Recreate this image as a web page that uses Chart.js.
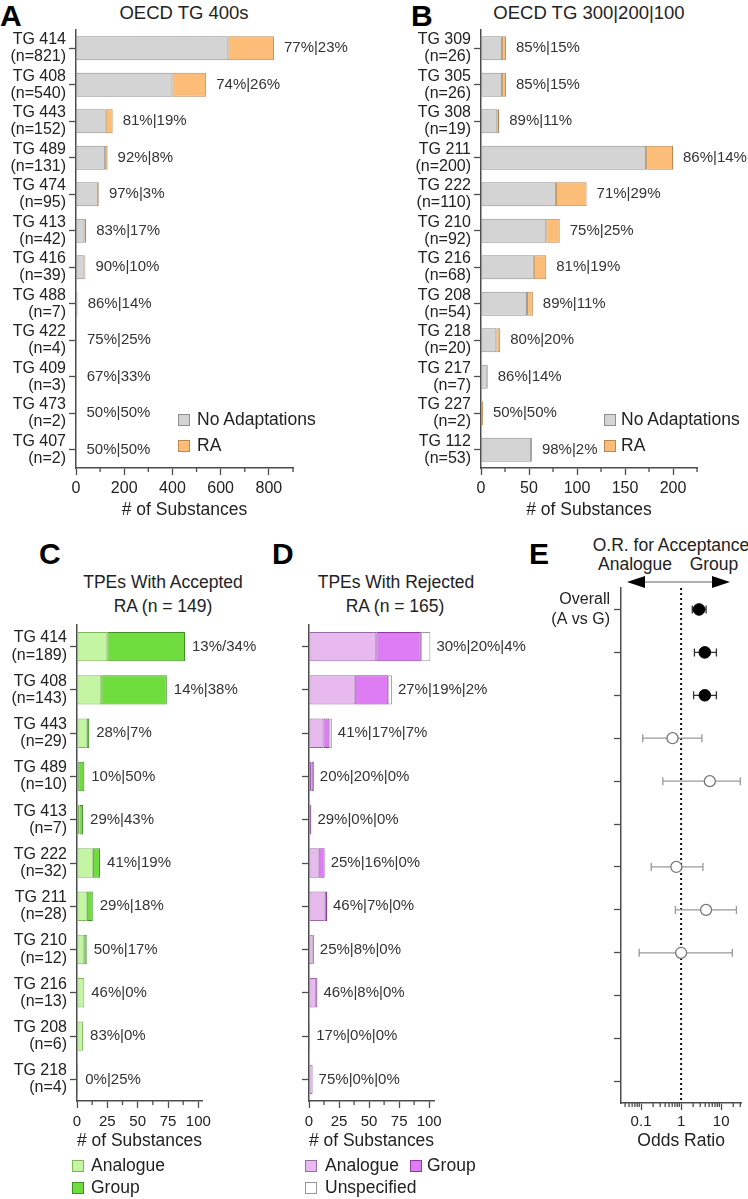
<!DOCTYPE html>
<html>
<head>
<meta charset="utf-8">
<script src="https://cdn.jsdelivr.net/npm/chart.js@4"></script>
<style>
  body { margin: 0; background: #fff; }
  #fig { position: relative; width: 748px; height: 1199px; overflow: hidden;
         font-family: 'Liberation Sans', Arial, sans-serif; color: #222; }
  #fig canvas { position: absolute; }
  .t { position: absolute; white-space: nowrap; line-height: 1; }
  .c { transform: translateX(-50%); }
  .big { font-size: 30px; font-weight: bold; color: #000; }
  .ttl { font-size: 17.5px; }
  .ttlA { font-size: 18.5px; }
  .leg { font-size: 17.5px; }
  .box { position: absolute; width: 10px; height: 10px; border: 1px solid #777; }
</style>
</head>
<body>
<div id="fig">
  <!-- panel letters -->
  <div class="t big" style="left:0px;top:1px">A</div>
  <div class="t big" style="left:411px;top:1px">B</div>
  <div class="t big" style="left:39px;top:539px">C</div>
  <div class="t big" style="left:272px;top:539px">D</div>
  <div class="t big" style="left:529px;top:539px">E</div>

  <!-- titles -->
  <div class="t ttlA c" style="left:184px;top:4px">OECD TG 400s</div>
  <div class="t ttlA c" style="left:589px;top:4px">OECD TG 300|200|100</div>
  <div class="t ttl c" style="left:163px;top:574px">TPEs With Accepted</div>
  <div class="t ttl c" style="left:163px;top:598px">RA (n = 149)</div>
  <div class="t ttl c" style="left:396px;top:574px">TPEs With Rejected</div>
  <div class="t ttl c" style="left:395px;top:598px">RA (n = 165)</div>
  <div class="t ttl c" style="left:671px;top:537px">O.R. for Acceptance</div>
  <div class="t ttl c" style="left:635px;top:556px">Analogue</div>
  <div class="t ttl c" style="left:714px;top:556px">Group</div>
  <svg style="position:absolute;left:620px;top:572px" width="120" height="20">
    <line x1="24" y1="10" x2="93" y2="10" stroke="#999" stroke-width="1.5"/>
    <polygon points="7,10 25,4 25,16" fill="#000"/>
    <polygon points="110,10 92,4 92,16" fill="#000"/>
  </svg>

  <canvas id="chartA" width="374" height="530" style="left:0px;top:0px"></canvas>
  <canvas id="chartB" width="374" height="530" style="left:374px;top:0px"></canvas>
  <canvas id="chartC" width="270" height="560" style="left:0px;top:600px"></canvas>
  <canvas id="chartD" width="300" height="560" style="left:240px;top:600px"></canvas>
  <canvas id="chartE" width="248" height="620" style="left:500px;top:540px"></canvas>

  <!-- legends -->
  <div class="box" style="left:178px;top:414px;background:#d4d4d4;border-color:#8f8f8f"></div>
  <div class="t leg" style="left:197px;top:411px">No Adaptations</div>
  <div class="box" style="left:178px;top:440px;background:#fbbd78;border-color:#b8864e"></div>
  <div class="t leg" style="left:197px;top:437px">RA</div>

  <div class="box" style="left:604px;top:414px;background:#d4d4d4;border-color:#8f8f8f"></div>
  <div class="t leg" style="left:621px;top:411px">No Adaptations</div>
  <div class="box" style="left:604px;top:440px;background:#fbbd78;border-color:#b8864e"></div>
  <div class="t leg" style="left:621px;top:437px">RA</div>

  <div class="box" style="left:72px;top:1160px;background:#c4f5a2;border-color:#7fb65c"></div>
  <div class="t leg" style="left:91px;top:1157px">Analogue</div>
  <div class="box" style="left:72px;top:1182px;background:#6fdd3e;border-color:#3f8f25"></div>
  <div class="t leg" style="left:91px;top:1179px">Group</div>

  <div class="box" style="left:305px;top:1160px;background:#e8b9ef;border-color:#9a6aa5"></div>
  <div class="t leg" style="left:325px;top:1157px">Analogue</div>
  <div class="box" style="left:410px;top:1160px;background:#de7cf4;border-color:#8a3d9e"></div>
  <div class="t leg" style="left:427px;top:1157px">Group</div>
  <div class="box" style="left:305px;top:1182px;background:#fff;border-color:#999"></div>
  <div class="t leg" style="left:325px;top:1179px">Unspecified</div>
</div>

<script>
// ---- data: panel A (OECD TG 400s) ----
const aTests = ['TG 414','TG 408','TG 443','TG 489','TG 474','TG 413','TG 416','TG 488','TG 422','TG 409','TG 473','TG 407'];
const aN = [821, 540, 152, 131, 95, 42, 39, 7, 4, 3, 2, 2];
const aNoAdapt = [632, 400, 123, 121, 92, 35, 35, 6, 3, 2, 1, 1];
const aRA = [189, 140, 29, 10, 3, 7, 4, 1, 1, 1, 1, 1];
const aPct = ['77%|23%','74%|26%','81%|19%','92%|8%','97%|3%','83%|17%','90%|10%','86%|14%','75%|25%','67%|33%','50%|50%','50%|50%'];

// ---- data: panel B (OECD TG 300|200|100) ----
const bTests = ['TG 309','TG 305','TG 308','TG 211','TG 222','TG 210','TG 216','TG 208','TG 218','TG 217','TG 227','TG 112'];
const bN = [26, 26, 19, 200, 110, 92, 68, 54, 20, 7, 2, 53];
const bNoAdapt = [22, 22, 17, 172, 78, 68, 55, 48, 16, 6, 1, 52];
const bRA = [4, 4, 2, 28, 32, 14, 13, 6, 4, 1, 1, 1];
const bPct = ['85%|15%','85%|15%','89%|11%','86%|14%','71%|29%','75%|25%','81%|19%','89%|11%','80%|20%','86%|14%','50%|50%','98%|2%'];

// ---- data: panels C and D (accepted / rejected RA) ----
const cdTests = ['TG 414','TG 408','TG 443','TG 489','TG 413','TG 222','TG 211','TG 210','TG 216','TG 208','TG 218'];
const cdN = [189, 143, 29, 10, 7, 32, 28, 12, 13, 6, 4];
const cAnalogue = [25, 20, 8, 1, 2, 13, 8, 6, 6, 5, 0];
const cGroup = [64, 54, 2, 5, 3, 6, 5, 2, 0, 0, 1];
const cPct = ['13%/34%','14%|38%','28%|7%','10%|50%','29%|43%','41%|19%','29%|18%','50%|17%','46%|0%','83%|0%','0%|25%'];
const dAnalogue = [56, 38, 12, 2, 2, 8, 13, 3, 6, 1, 3];
const dGroup = [37, 28, 5, 2, 0, 5, 2, 1, 1, 0, 0];
const dUnspec = [8, 3, 2, 0, 0, 0, 0, 0, 0, 0, 0];
const dPct = ['30%|20%|4%','27%|19%|2%','41%|17%|7%','20%|20%|0%','29%|0%|0%','25%|16%|0%','46%|7%|0%','25%|8%|0%','46%|8%|0%','17%|0%|0%','75%|0%|0%'];

// ---- data: panel E (odds ratios, analogue vs group) ----
const eRows = ['Overall','TG 414','TG 408','TG 443','TG 489','TG 413','TG 222','TG 211','TG 210','TG 216','TG 208','TG 218'];
const eOR   = [2.8, 3.9, 3.9, 0.61, 5.2, null, 0.76, 4.2, 1.0, null, null, null];
const eLow  = [1.9, 2.15, 2.05, 0.11, 0.35, null, 0.18, 0.72, 0.09, null, null, null];
const eHigh = [4.2, 7.6, 7.6, 3.3, 30, null, 3.5, 24, 19, null, null, null];
const eSig  = [true, true, true, false, false, false, false, false, false, false, false, false];
const eTicks = [0.1, 1, 10];

const fam = "'Liberation Sans', Arial, sans-serif";
const axisColor = '#4d4d4d';
Chart.defaults.font.family = fam;
Chart.defaults.color = '#222';

// small minor ticks under the x axis
const minorTicks = {
  id: 'minorTicks',
  afterDraw(chart, args, opts) {
    if (!opts.values) return;
    const s = chart.scales.x, ctx = chart.ctx;
    ctx.save();
    ctx.strokeStyle = axisColor;
    ctx.lineWidth = 1.3;
    opts.values.forEach(v => {
      const px = s.getPixelForValue(v);
      ctx.beginPath();
      ctx.moveTo(px, s.top);
      ctx.lineTo(px, s.top + 4);
      ctx.stroke();
    });
    ctx.restore();
  }
};

// percentage text at the end of each stacked bar
const endLabels = {
  id: 'endLabels',
  afterDatasetsDraw(chart, args, opts) {
    if (!opts.labels) return;
    const ctx = chart.ctx;
    ctx.save();
    ctx.font = '15px ' + fam;
    ctx.fillStyle = '#333';
    ctx.textBaseline = 'middle';
    ctx.textAlign = 'left';
    opts.labels.forEach((txt, i) => {
      let end = chart.scales.x.getPixelForValue(0), y = 0;
      chart.data.datasets.forEach((ds, d) => {
        const bar = chart.getDatasetMeta(d).data[i];
        end = Math.max(end, bar.x);
        y = bar.y;
      });
      ctx.fillText(txt, end + opts.gap, y);
    });
    ctx.restore();
  }
};

// dotted OR = 1 line and confidence interval whiskers
const forest = {
  id: 'forest',
  beforeDatasetsDraw(chart, args, opts) {
    if (!opts.or) return;
    const {ctx, chartArea} = chart;
    const x = chart.scales.x, y = chart.scales.y;
    ctx.save();
    const x1 = x.getPixelForValue(1);
    ctx.setLineDash([2, 3]);
    ctx.lineWidth = 2;
    ctx.strokeStyle = '#111';
    ctx.beginPath();
    ctx.moveTo(x1, chartArea.top);
    ctx.lineTo(x1, chartArea.bottom);
    ctx.stroke();
    ctx.setLineDash([]);
    opts.or.forEach((v, i) => {
      if (v == null) return;
      const py = y.getPixelForValue(i);
      const xl = x.getPixelForValue(opts.low[i]);
      const xh = x.getPixelForValue(opts.high[i]);
      ctx.strokeStyle = opts.sig[i] ? '#333' : '#999';
      ctx.lineWidth = 1.3;
      ctx.beginPath();
      ctx.moveTo(xl, py); ctx.lineTo(xh, py);
      ctx.moveTo(xl, py - 4); ctx.lineTo(xl, py + 4);
      ctx.moveTo(xh, py - 4); ctx.lineTo(xh, py + 4);
      ctx.stroke();
    });
    ctx.restore();
  }
};

function stack(label, data, fill, border) {
  return { label: label, data: data, backgroundColor: fill, borderColor: border,
           borderWidth: 1, borderSkipped: false };
}

function barChart(id, c) {
  return new Chart(document.getElementById(id), {
    type: 'bar',
    data: { labels: c.labels, datasets: c.datasets },
    plugins: [minorTicks, endLabels],
    options: {
      indexAxis: 'y',
      responsive: false,
      animation: false,
      devicePixelRatio: 1,
      layout: { padding: { top: c.top, right: c.right, left: 0, bottom: 0 } },
      datasets: { bar: { barPercentage: c.barPct, categoryPercentage: 1 } },
      plugins: {
        legend: { display: false },
        tooltip: { enabled: false },
        endLabels: { labels: c.pct, gap: c.gap },
        minorTicks: { values: c.minor }
      },
      scales: {
        x: {
          stacked: true, min: 0, max: c.max,
          afterFit: s => { s.height = c.xHeight; },
          border: { color: axisColor, width: 1.5 },
          grid: { drawOnChartArea: false, tickLength: 7, tickColor: axisColor, tickWidth: 1.3 },
          ticks: { stepSize: c.step, includeBounds: false, padding: c.tickPad, maxRotation: 0,
                   font: { size: c.xFont } },
          title: { display: true, text: '# of Substances', font: { size: 17.5 },
                   padding: { top: 0, bottom: c.titlePad } }
        },
        y: {
          stacked: true,
          afterFit: s => { s.width = c.yWidth; },
          border: { color: axisColor, width: 1.5 },
          grid: { offset: false, drawOnChartArea: false, tickLength: 7, tickColor: axisColor, tickWidth: 1.3 },
          ticks: { autoSkip: false, padding: 3, font: { size: 16, lineHeight: 1.07 }, callback: c.yTick }
        }
      }
    }
  });
}

const grey = ['#d4d4d4', '#8f8f8f'], orange = ['#fbbd78', '#b8864e'];

barChart('chartA', {
  labels: aTests,
  datasets: [stack('No Adaptations', aNoAdapt, grey[0], grey[1]), stack('RA', aRA, orange[0], orange[1])],
  top: 30, right: 81, yWidth: 76, xHeight: 62, max: 900, step: 200,
  minor: [100, 300, 500, 700, 900], barPct: 0.66, pct: aPct, gap: 10,
  xFont: 16, tickPad: 4, titlePad: 9.5,
  yTick: (v, i) => [aTests[i], '(n=' + aN[i] + ')']
});

barChart('chartB', {
  labels: bTests,
  datasets: [stack('No Adaptations', bNoAdapt, grey[0], grey[1]), stack('RA', bRA, orange[0], orange[1])],
  top: 30, right: 51, yWidth: 107, xHeight: 62, max: 225, step: 50,
  minor: [25, 75, 125, 175, 225], barPct: 0.66, pct: bPct, gap: 10,
  xFont: 16, tickPad: 4, titlePad: 9.5,
  yTick: (v, i) => [bTests[i], '(n=' + bN[i] + ')']
});

barChart('chartC', {
  labels: cdTests,
  datasets: [stack('Analogue', cAnalogue, '#c4f5a2', '#7fb65c'), stack('Group', cGroup, '#6fdd3e', '#3f8f25')],
  top: 25, right: 68, yWidth: 77, xHeight: 59, max: 103, step: 25,
  minor: [12.5, 37.5, 62.5, 87.5], barPct: 0.68, pct: cPct, gap: 7,
  xFont: 15, tickPad: 5, titlePad: 8.5,
  yTick: (v, i) => [cdTests[i], '(n=' + cdN[i] + ')']
});

barChart('chartD', {
  labels: cdTests,
  datasets: [stack('Analogue', dAnalogue, '#e8b9ef', '#9a6aa5'), stack('Group', dGroup, '#de7cf4', '#8a3d9e'),
             stack('Unspecified', dUnspec, '#ffffff', '#999999')],
  top: 25, right: 106, yWidth: 69, xHeight: 59, max: 104, step: 25,
  minor: [12.5, 37.5, 62.5, 87.5], barPct: 0.68, pct: dPct, gap: 6,
  xFont: 15, tickPad: 5, titlePad: 8.5,
  yTick: () => ''
});

// Panel E
const eMinor = [];
[0.01, 0.1, 1, 10].forEach(d => { for (let k = 2; k <= 9; k++) { const v = k * d; if (v > 0.0316 && v < 31.6) eMinor.push(v); } });

function ePoints(sig) {
  const out = [];
  eOR.forEach((v, i) => { if (v != null && eSig[i] === sig) out.push({ x: v, y: eRows[i] }); });
  return out;
}

new Chart(document.getElementById('chartE'), {
  type: 'scatter',
  data: {
    datasets: [
      { data: ePoints(true), pointRadius: 5.8, pointBackgroundColor: '#000', pointBorderColor: '#000', pointBorderWidth: 1 },
      { data: ePoints(false), pointRadius: 5.5, pointBackgroundColor: '#fff', pointBorderColor: '#777', pointBorderWidth: 1.3 }
    ]
  },
  plugins: [minorTicks, forest],
  options: {
    responsive: false,
    animation: false,
    devicePixelRatio: 1,
    layout: { padding: { top: 48, right: 2, left: 0, bottom: 0 } },
    plugins: {
      legend: { display: false },
      tooltip: { enabled: false },
      minorTicks: { values: eMinor },
      forest: { or: eOR, low: eLow, high: eHigh, sig: eSig }
    },
    scales: {
      x: {
        type: 'logarithmic', min: 0.0316, max: 31.6,
        afterBuildTicks: s => { s.ticks = eTicks.map(v => ({ value: v })); },
        afterFit: s => { s.height = 57; },
        border: { color: axisColor, width: 1.5 },
        grid: { drawOnChartArea: false, tickLength: 7, tickColor: axisColor, tickWidth: 1.3 },
        ticks: { padding: 3, maxRotation: 0, font: { size: 15 }, callback: v => String(v) },
        title: { display: true, text: 'Odds Ratio', font: { size: 17.5 }, padding: { top: 0, bottom: 8.5 } }
      },
      y: {
        type: 'category', labels: eRows, offset: true,
        afterFit: s => { s.width = 121; },
        border: { color: axisColor, width: 1.5 },
        grid: { offset: false, drawOnChartArea: false, tickLength: 7, tickColor: axisColor, tickWidth: 1.3 },
        ticks: { autoSkip: false, padding: 4, font: { size: 16, lineHeight: 1.25 },
                 callback: (v, i) => i === 0 ? ['Overall', '(A vs G)'] : '' }
      }
    }
  }
});
</script>
</body>
</html>
